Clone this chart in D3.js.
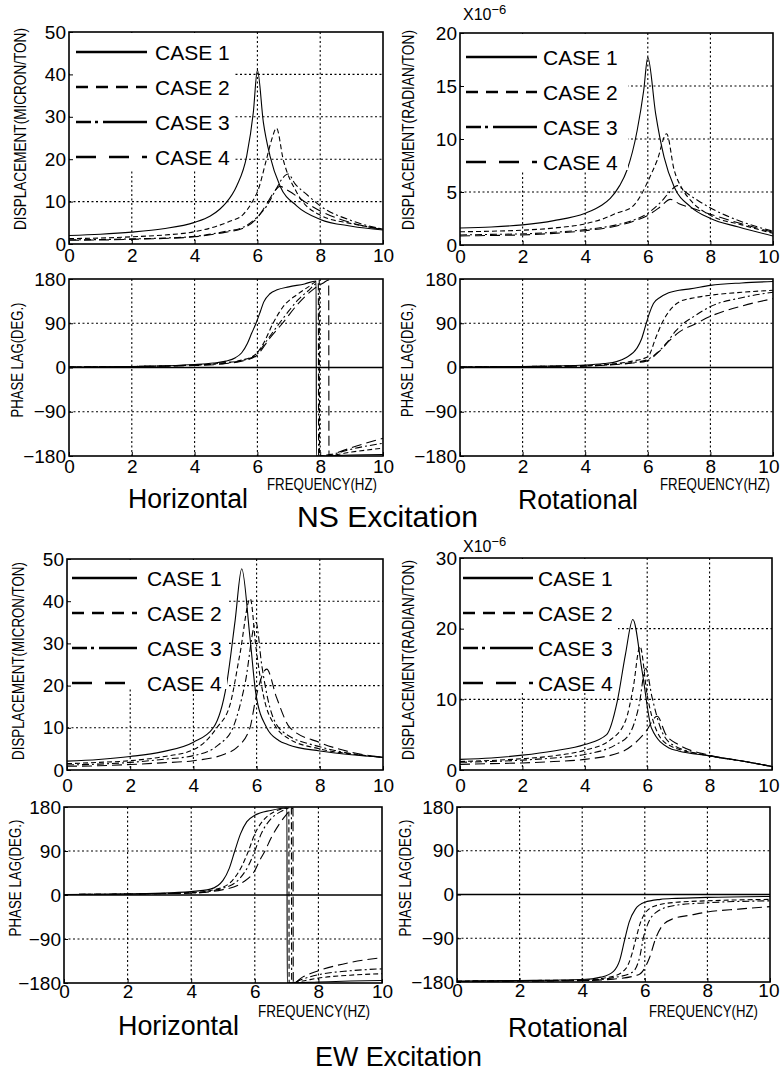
<!DOCTYPE html>
<html>
<head>
<meta charset="utf-8">
<script src="https://cdn.jsdelivr.net/npm/d3@7"></script>
<style>
	body { margin: 0; background: #fff; }
	svg { display: block; font-family: "Liberation Sans", Arial, Helvetica, sans-serif; }
</style>
</head>
<body>
<div id="chart"></div>
<script>
// Data: [frequency (Hz), value], one array per case
const freqTicks = [0, 2, 4, 6, 8, 10]
const phaseTicks = [-180, -90, 0, 90, 180]
const caseNames = ['CASE 1', 'CASE 2', 'CASE 3', 'CASE 4']

const nsHorMagTicks = [0, 10, 20, 30, 40, 50]
const nsRotMagTicks = [0, 5, 10, 15, 20]
const ewHorMagTicks = [0, 10, 20, 30, 40, 50]
const ewRotMagTicks = [0, 10, 20, 30]

// NS excitation, horizontal displacement (micron/ton)
const nsHorMag = [
	[[0,2.0],[1,2.3],[2,2.8],[3,3.6],[4,5.1],[4.5,6.6],[4.8,8.2],[5.0,9.7],[5.34,13.7],[5.66,20.8],[5.87,31],[6.0,41],[6.19,28.7],[6.4,20.8],[6.72,13.7],[7.25,9],[8,5.8],[9,4.2],[10,3.3]],
	[[0,1.3],[1,1.4],[2,1.7],[3,2.1],[4,2.9],[4.7,4.2],[5.1,5.3],[5.55,7],[5.8,9.5],[6.03,12.9],[6.29,20],[6.45,24.5],[6.61,27.3],[6.82,20],[7.25,12.2],[8,6.8],[9,4.8],[10,3.5]],
	[[0,1.0],[1,1.05],[2,1.2],[3,1.4],[4,1.8],[5,3.0],[5.5,3.8],[6.0,6.4],[6.3,9],[6.6,13],[6.8,15.5],[6.98,16.5],[7.2,14.2],[7.6,11.5],[8,9.0],[9,5.5],[10,3.5]],
	[[0,0.9],[1,0.95],[2,1.1],[3,1.3],[4,1.7],[5,2.8],[5.5,3.6],[6.0,6.2],[6.3,9.5],[6.55,12.5],[6.72,13.6],[7.0,12.5],[7.5,10],[8,7.8],[9,5],[10,3.4]]
]

// NS excitation, rotational displacement (x1e-6 radian/ton)
const nsRotMag = [
	[[0,1.6],[1,1.7],[2,1.9],[3,2.3],[4,3.0],[4.5,3.7],[4.8,4.4],[5.1,5.6],[5.34,7.1],[5.66,10.8],[5.87,14.6],[6.0,17.7],[6.25,12.4],[6.52,8.3],[6.84,5.5],[7.37,3.6],[8,2.5],[8.9,1.7],[10,0.85]],
	[[0,1.25],[1,1.3],[2,1.4],[3,1.6],[4,2.0],[4.6,2.5],[5.0,3.0],[5.5,3.6],[5.8,4.8],[6.0,6.0],[6.3,8],[6.6,10.5],[6.84,7.1],[7.1,5.3],[7.37,4.2],[8,2.8],[9,1.9],[10,1.1]],
	[[0,0.95],[1,1.0],[2,1.05],[3,1.2],[4,1.45],[5,1.9],[5.5,2.3],[6,3.0],[6.4,4.0],[6.7,5.0],[6.95,5.6],[7.2,5.0],[7.6,4.2],[8,3.5],[9,2.2],[10,1.3]],
	[[0,0.85],[1,0.9],[2,0.95],[3,1.1],[4,1.35],[5,1.8],[5.5,2.2],[6,2.8],[6.4,3.6],[6.72,4.3],[7.0,3.9],[7.5,3.4],[8,2.9],[9,2.0],[10,1.2]]
]

// NS excitation, phase lag (deg)
const nsHorPhase = [
	[[0,1],[2,2],[4,6],[4.6,9],[5,13],[5.3,20],[5.5,30],[5.68,49],[5.82,70],[5.95,89],[6.1,115],[6.2,133],[6.4,150],[6.63,158],[7,164],[7.5,170],[7.87,176],[7.88,-180],[8.5,-179],[9,-178],[10,-177]],
	[[0,1],[2,2],[4,5],[5,10],[5.5,15],[5.95,27],[6.2,50],[6.5,90],[6.8,122],[7.3,150],[7.6,163],[7.97,177],[7.98,-180],[8.4,-178],[9,-172],[10,-164]],
	[[0,1],[2,2],[4,5],[5,9],[5.5,14],[5.95,25],[6.3,55],[6.7,90],[7,115],[7.3,138],[7.6,155],[7.94,172],[7.95,-180],[8.4,-176],[9,-166],[10,-154]],
	[[0,1],[2,2],[4,4],[5,8],[5.5,13],[5.95,23],[6.4,60],[6.8,90],[7.3,130],[7.8,160],[8.1,172],[8.27,178],[8.28,-180],[8.6,-172],[9,-163],[10,-144]]
]
const nsRotPhase = [
	[[0,1],[2,2],[4,5],[4.6,8],[5,12],[5.3,20],[5.65,39],[5.8,58],[5.92,83],[6.05,110],[6.18,130],[6.4,143],[6.6,150],[7,157],[7.35,160],[8,167],[9,172],[10,175]],
	[[0,1],[2,2],[4,4],[5,8],[5.5,13],[6,22],[6.27,63],[6.45,90],[6.6,107],[7.02,134],[7.5,142],[8,147],[9,153],[10,157]],
	[[0,1],[2,2],[4,3],[5,7],[5.5,10],[5.95,15],[6.3,30],[6.6,50],[6.9,75],[7.15,90],[7.5,105],[8,124],[9,142],[10,153]],
	[[0,1],[2,2],[4,3],[5,6],[5.5,9],[5.95,13],[6.4,35],[6.7,55],[7,72],[7.5,88],[8,104],[9,125],[10,140]]
]

// EW excitation, horizontal displacement (micron/ton)
const ewHorMag = [
	[[0,2.1],[1,2.5],[2,3.2],[3,4.3],[4,6.6],[4.63,10],[5.05,20.3],[5.32,35.4],[5.53,47.7],[5.79,31.4],[5.98,17.9],[6.32,10],[6.7,7],[7,6],[8,4.5],[9,3.6],[10,3.0]],
	[[0,1.5],[1,1.8],[2,2.2],[3,3.1],[4,4.8],[4.74,10],[5.16,15.5],[5.47,27.4],[5.8,40.6],[5.98,29],[6.21,17.9],[6.63,10],[7,7.5],[8,5],[9,3.8],[10,3.0]],
	[[0,1.2],[1,1.4],[2,1.8],[3,2.5],[4,3.4],[4.8,6],[5.25,10],[5.63,20.3],[5.98,35],[6.16,25],[6.42,14.8],[6.84,9],[8,5.5],[9,3.9],[10,3.0]],
	[[0,0.9],[1,1.0],[2,1.3],[3,1.7],[4,2.2],[5,3.8],[5.37,5.3],[5.79,10],[5.98,17.2],[6.32,23.9],[6.63,17.2],[7.06,10],[8,6.5],[9,4.2],[10,3.0]]
]

// EW excitation, rotational displacement (x1e-6 radian/ton)
const ewRotMag = [
	[[0,1.5],[1,1.7],[2,2.1],[3,2.7],[4,3.6],[4.7,5.0],[5.04,9.7],[5.3,16.3],[5.54,21.3],[5.84,13.9],[6.14,5.9],[6.7,3.1],[7,2.7],[8,2.0],[9,1.3],[10,0.5]],
	[[0,1.2],[1,1.35],[2,1.6],[3,2.0],[4,2.8],[4.8,4.2],[5.3,6.9],[5.55,11.6],[5.77,17.5],[6.0,10.6],[6.27,5.9],[6.7,3.5],[8,2.0],[9,1.3],[10,0.5]],
	[[0,1.1],[1,1.2],[2,1.4],[3,1.7],[4,2.2],[5,3.6],[5.42,5],[5.74,9.2],[5.95,14.4],[6.16,10.2],[6.43,5.9],[6.8,3.6],[8,2.0],[9,1.3],[10,0.5]],
	[[0,0.8],[1,0.9],[2,1.0],[3,1.2],[4,1.5],[5.2,2.6],[5.95,5.4],[6.32,7.6],[6.6,5.0],[7,3.6],[8,2.1],[9,1.3],[10,0.5]]
]

// EW excitation, phase lag (deg)
const ewHorPhase = [
	[[0,1],[2,2],[4,7],[4.6,12],[5,30],[5.2,55],[5.37,90],[5.55,125],[5.75,150],[6,163],[6.5,173],[7.01,178],[7.02,-180],[8,-178],[9,-176],[10,-175]],
	[[0,1],[2,2],[4,5],[4.8,12],[5.3,30],[5.6,60],[5.8,90],[6,125],[6.3,155],[6.6,170],[7.07,178],[7.08,-180],[7.5,-176],[8,-170],[9,-164],[10,-161]],
	[[0,1],[2,2],[4,4],[5,14],[5.5,32],[5.8,60],[6,90],[6.2,125],[6.5,155],[6.8,170],[7.15,178],[7.16,-180],[7.5,-172],[8,-163],[9,-155],[10,-151]],
	[[0,1],[2,2],[4,4],[5,11],[5.6,25],[6,50],[6.15,70],[6.32,90],[6.5,115],[6.8,148],[7,165],[7.2,178],[7.21,-180],[7.5,-168],[8,-155],[9,-138],[10,-128]]
]
const ewRotPhase = [
	[[0,-178],[2,-177],[4,-175],[4.6,-170],[5,-158],[5.2,-135],[5.35,-95],[5.5,-57],[5.7,-30],[6,-16],[6.5,-10],[7,-8],[8,-6],[10,-4]],
	[[0,-178],[2,-177],[4,-176],[5,-168],[5.4,-152],[5.6,-120],[5.72,-90],[5.85,-60],[6.05,-35],[6.4,-22],[7,-16],[8,-13],[10,-10]],
	[[0,-179],[2,-178],[4,-177],[5,-171],[5.6,-160],[5.85,-125],[5.95,-90],[6.1,-60],[6.4,-35],[7,-22],[8,-17],[10,-13]],
	[[0,-179],[2,-178],[4,-177],[5,-174],[5.8,-165],[6.15,-130],[6.35,-90],[6.55,-65],[6.9,-50],[7.5,-42],[8,-36],[9,-30],[10,-25]]
]

// line styles
const plotDash = [null, '5,3', '7,3,2,3', '10,5']
const legendDash = [null, '12,8', '15,4,3,5,60', '20,13']

const pageWidth = 780

// squeeze a text horizontally so it is exactly len pixels wide
function fitText(sel, len, base) {
	const w = sel.node().getComputedTextLength()
	sel.attr('transform', `${base} scale(${len / w}, 1)`)
}

async function draw() {
	// Panel layout
	const panels = [
		{ data: nsHorMag, yTicks: nsHorMagTicks, left: 69, right: 383, top: 32, bottom: 244, xPad: 5,
			yLabel: 'DISPLACEMENT(MICRON/TON)', lab: [20, 129, 202],
			legend: { boxRight: 233, boxBottom: 170, x0: 76, x1: 147, tx: 155, y0: 52 } },
		{ data: nsRotMag, yTicks: nsRotMagTicks, left: 460, right: 773, top: 33, bottom: 245, xPad: 5,
			yLabel: 'DISPLACEMENT(RADIAN/TON)', lab: [408, 130, 200], exp: [463, 20],
			legend: { boxRight: 628, boxBottom: 170, x0: 466, x1: 537, tx: 543, y0: 57 } },
		{ data: nsHorPhase, yTicks: phaseTicks, left: 69, right: 383, top: 279, bottom: 456, xPad: 3, phase: true,
			yLabel: 'PHASE LAG(DEG.)', lab: [17, 360, 115] },
		{ data: nsRotPhase, yTicks: phaseTicks, left: 460, right: 773, top: 279, bottom: 456, xPad: 3, phase: true,
			yLabel: 'PHASE LAG(DEG.)', lab: [407, 360, 114] },
		{ data: ewHorMag, yTicks: ewHorMagTicks, left: 67, right: 383, top: 559, bottom: 770, xPad: 9,
			yLabel: 'DISPLACEMENT(MICRON/TON)', lab: [18, 661, 198],
			legend: { boxRight: 227, boxBottom: 689, x0: 72, x1: 137, tx: 147, y0: 578 } },
		{ data: ewRotMag, yTicks: ewRotMagTicks, left: 460, right: 772, top: 558, bottom: 770, xPad: 9,
			yLabel: 'DISPLACEMENT(RADIAN/TON)', lab: [408, 660, 200], exp: [463, 552],
			legend: { boxRight: 618, boxBottom: 692, x0: 463, x1: 533, tx: 538, y0: 578 } },
		{ data: ewHorPhase, yTicks: phaseTicks, left: 64, right: 382, top: 807, bottom: 983, xPad: 1, phase: true,
			yLabel: 'PHASE LAG(DEG.)', lab: [15, 878, 117] },
		{ data: ewRotPhase, yTicks: phaseTicks, left: 457, right: 770, top: 807, bottom: 982, xPad: 1, phase: true,
			yLabel: 'PHASE LAG(DEG.)', lab: [405, 878, 117] }
	]

	const titles = [
		{ text: 'Horizontal', x: 128, y: 508, size: 28, len: 120 },
		{ text: 'FREQUENCY(HZ)', x: 267, y: 490, size: 17, len: 110 },
		{ text: 'NS Excitation', x: 297, y: 527, size: 29, len: 181 },
		{ text: 'Rotational', x: 518, y: 509, size: 28, len: 120 },
		{ text: 'FREQUENCY(HZ)', x: 660, y: 490, size: 17, len: 110 },
		{ text: 'Horizontal', x: 118, y: 1035, size: 28, len: 121 },
		{ text: 'FREQUENCY(HZ)', x: 258, y: 1017, size: 17, len: 112 },
		{ text: 'Rotational', x: 508, y: 1037, size: 28, len: 120 },
		{ text: 'FREQUENCY(HZ)', x: 649, y: 1017, size: 17, len: 109 },
		{ text: 'EW Excitation', x: 315, y: 1066, size: 27, len: 167 }
	]

	// Draw Image
	const svg = d3.select('#chart')
		.append('svg')
		.attr('width', pageWidth)
		.attr('height', 1074)

	panels.forEach((p, i) => drawPanel(svg, p, i))

	svg.selectAll('text.title')
		.data(titles)
		.join('text')
		.attr('class', 'title')
		.attr('font-size', d => d.size)
		.text(d => d.text)
		.each(function (d) {
			fitText(d3.select(this), d.len, `translate(${d.x}, ${d.y})`)
		})
}

function drawPanel(svg, p, i) {
	// Scales
	const xScale = d3.scaleLinear()
		.domain([0, 10])
		.range([p.left, p.right])
	const yScale = d3.scaleLinear()
		.domain(d3.extent(p.yTicks))
		.range([p.bottom, p.top])

	const g = svg.append('g')

	svg.append('clipPath')
		.attr('id', 'clip' + i)
		.append('rect')
		.attr('x', p.left)
		.attr('y', p.top)
		.attr('width', p.right - p.left)
		.attr('height', p.bottom - p.top)

	// Grid
	g.selectAll('.vgrid')
		.data(freqTicks.slice(1, -1))
		.join('line')
		.attr('x1', d => xScale(d))
		.attr('x2', d => xScale(d))
		.attr('y1', p.top)
		.attr('y2', p.bottom)
		.attr('stroke', '#000')
		.attr('stroke-width', 1.1)
		.attr('stroke-dasharray', '2,2.5')

	g.selectAll('.hgrid')
		.data(p.yTicks.slice(1, -1))
		.join('line')
		.attr('x1', p.left)
		.attr('x2', p.right)
		.attr('y1', d => yScale(d))
		.attr('y2', d => yScale(d))
		.attr('stroke', '#000')
		.attr('stroke-width', d => (p.phase && d === 0) ? 1.4 : 1.1)
		.attr('stroke-dasharray', d => (p.phase && d === 0) ? null : '2,2.5')

	// Curves
	const line = d3.line()
		.x(d => xScale(d[0]))
		.y(d => yScale(d[1]))
		.curve(d3.curveMonotoneX)

	g.append('g')
		.attr('clip-path', `url(#clip${i})`)
		.selectAll('path')
		.data(p.data)
		.join('path')
		.attr('d', line)
		.attr('fill', 'none')
		.attr('stroke', '#000')
		.attr('stroke-width', 1.1)
		.attr('stroke-dasharray', (d, k) => plotDash[k])

	// Legend
	if (p.legend) {
		const lg = p.legend
		g.append('rect')
			.attr('x', p.left + 1)
			.attr('y', p.top + 1)
			.attr('width', lg.boxRight - p.left - 1)
			.attr('height', lg.boxBottom - p.top - 1)
			.attr('fill', '#fff')

		const rows = g.selectAll('.leg')
			.data(caseNames)
			.join('g')
			.attr('transform', (d, k) => `translate(0, ${lg.y0 + k * 35})`)
		rows.append('line')
			.attr('x1', lg.x0)
			.attr('x2', lg.x1)
			.attr('stroke', '#000')
			.attr('stroke-width', 2.6)
			.attr('stroke-dasharray', (d, k) => legendDash[k])
		rows.append('text')
			.attr('x', lg.tx)
			.attr('y', 8)
			.attr('font-size', 21)
			.text(d => d)
	}

	// Border
	g.append('rect')
		.attr('x', p.left)
		.attr('y', p.top)
		.attr('width', p.right - p.left)
		.attr('height', p.bottom - p.top)
		.attr('fill', 'none')
		.attr('stroke', '#000')
		.attr('stroke-width', 1.6)

	// Axes
	const xAxis = d3.axisBottom(xScale)
		.tickValues(freqTicks)
		.tickSize(-4)
		.tickPadding(p.xPad)
	const yAxis = d3.axisLeft(yScale)
		.tickValues(p.yTicks)
		.tickSize(-4)
		.tickPadding(3)

	const xg = g.append('g')
		.attr('transform', `translate(0, ${p.bottom})`)
		.call(xAxis)
	const yg = g.append('g')
		.attr('transform', `translate(${p.left}, 0)`)
		.call(yAxis)

	for (const ax of [xg, yg]) {
		ax.select('.domain').remove()
		ax.attr('font-family', null).attr('font-size', null)
		ax.selectAll('text').attr('font-size', 19).attr('fill', '#000')
		ax.selectAll('.tick line').attr('stroke', '#000')
	}

	// keep the last frequency label inside the page
	xg.selectAll('.tick text').each(function (d) {
		const w = this.getComputedTextLength()
		const over = xScale(d) + w / 2 - (pageWidth - 1)
		if (over > 0) d3.select(this).attr('x', -over)
	})

	// Axis label, condensed to the reference width
	const lab = g.append('text')
		.attr('text-anchor', 'middle')
		.attr('dy', '0.36em')
		.attr('font-size', 17)
		.text(p.yLabel)
	fitText(lab, p.lab[2], `translate(${p.lab[0]}, ${p.lab[1]}) rotate(-90)`)

	if (p.exp) {
		const t = g.append('text')
			.attr('x', p.exp[0])
			.attr('y', p.exp[1])
			.attr('font-size', 16)
		t.append('tspan').text('X10')
		t.append('tspan').attr('dy', -6).attr('font-size', 13).text('−6')
	}
}

draw()
</script>
</body>
</html>
